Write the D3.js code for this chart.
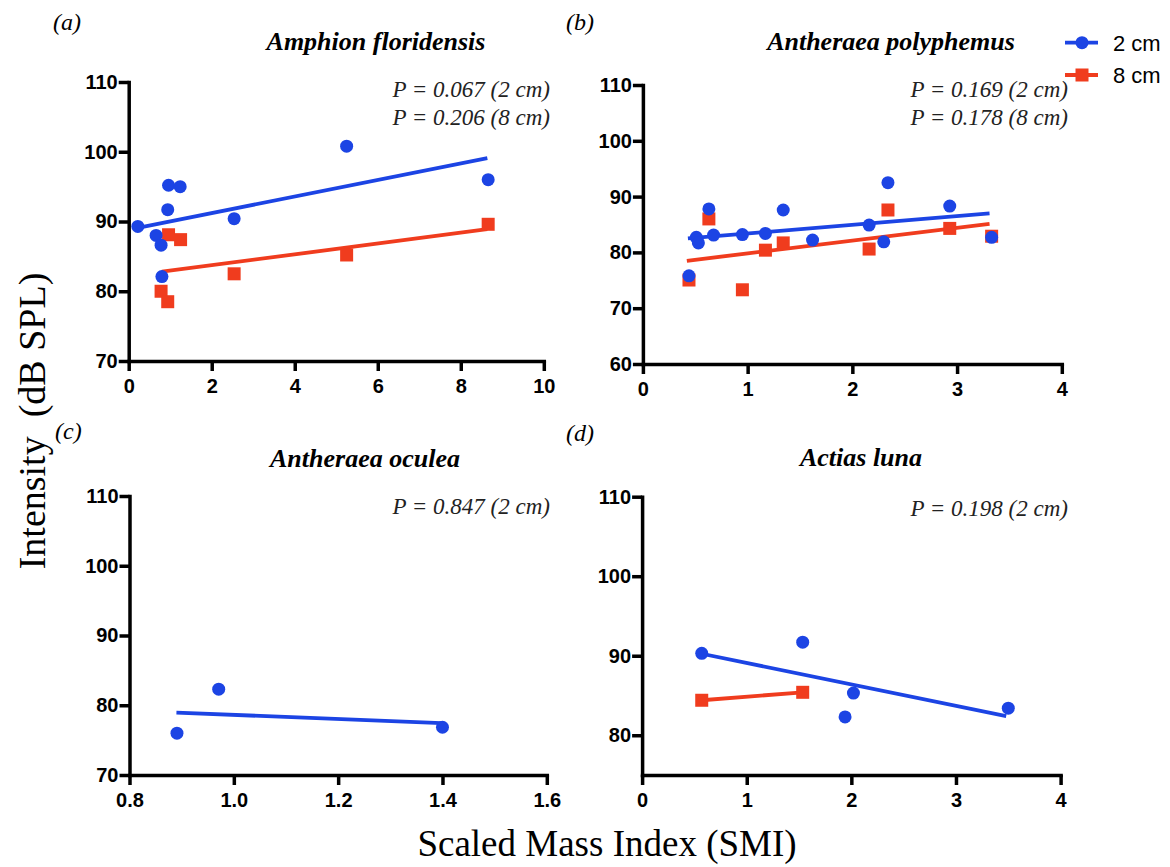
<!DOCTYPE html>
<html><head><meta charset="utf-8">
<script src="https://cdn.jsdelivr.net/npm/d3@7"></script>
<style>body{margin:0;background:#fff}</style>
</head><body><svg id="c" width="1170" height="867"></svg>
<script>
const blue = "#1c44e4", red = "#f03c1e";

// Panel (a) Amphion floridensis
const aX2 = [0.22, 0.66, 0.78, 0.80, 0.94, 0.96, 1.24, 2.54, 5.25, 8.66];
const aY2 = [89.3, 88.0, 86.6, 82.1, 91.7, 95.2, 95.0, 90.4, 100.8, 96.0];
const aX8 = [0.78, 0.94, 0.96, 1.25, 2.54, 5.25, 8.66];
const aY8 = [80.0, 78.5, 88.1, 87.4, 82.5, 85.2, 89.6];
const aFit2 = [[0.22, 89.1], [8.64, 99.1]];
const aFit8 = [[0.80, 82.8], [8.64, 88.9]];
const aXTicks = [0, 2, 4, 6, 8, 10];
const aYTicks = [70, 80, 90, 100, 110];

// Panel (b) Antheraea polyphemus
const bX2 = [0.44, 0.51, 0.53, 0.63, 0.675, 0.95, 1.17, 1.34, 1.62, 2.16, 2.30, 2.34, 2.93, 3.33];
const bY2 = [75.8, 82.7, 81.7, 87.8, 83.1, 83.2, 83.4, 87.6, 82.2, 84.9, 81.9, 92.5, 88.3, 82.7];
const bX8 = [0.44, 0.63, 0.95, 1.17, 1.34, 2.16, 2.34, 2.93, 3.33];
const bY8 = [75.05, 86.0, 73.3, 80.4, 81.7, 80.6, 87.6, 84.3, 82.9];
const bFit2 = [[0.43, 82.5], [3.31, 87.0]];
const bFit8 = [[0.42, 78.5], [3.31, 85.1]];
const bXTicks = [0, 1, 2, 3, 4];
const bYTicks = [60, 70, 80, 90, 100, 110];

// Panel (c) Antheraea oculea
const cX2 = [0.891, 0.971, 1.40];
const cY2 = [76.0, 82.3, 76.85];
const cFit2 = [[0.89, 78.95], [1.398, 77.43]];
const cXTicks = [0.8, 1.0, 1.2, 1.4, 1.6];
const cYTicks = [70, 80, 90, 100, 110];

// Panel (d) Actias luna
const dX2 = [0.57, 1.535, 1.94, 2.02, 3.50];
const dY2 = [90.3, 91.7, 82.3, 85.3, 83.4];
const dX8 = [0.57, 1.535];
const dY8 = [84.4, 85.4];
const dFit2 = [[0.57, 90.25], [3.48, 82.4]];
const dFit8 = [[0.57, 84.4], [1.535, 85.4]];
const dXTicks = [0, 1, 2, 3, 4];
const dYTicks = [80, 90, 100, 110];

const titles = ["Amphion floridensis", "Antheraea polyphemus", "Antheraea oculea", "Actias luna"];
const letters = ["(a)", "(b)", "(c)", "(d)"];
const pTexts = [
  ["P = 0.067 (2 cm)", "P = 0.206 (8 cm)"],
  ["P = 0.169 (2 cm)", "P = 0.178 (8 cm)"],
  ["P = 0.847 (2 cm)"],
  ["P = 0.198 (2 cm)"]
];
const legendLabels = ["2 cm", "8 cm"];

const zip = (xs, ys) => xs.map((x, i) => [x, ys[i]]);

const panels = [
  { xr: [128.7, 543.8], yr: [361, 82], xd: [0, 10], yd: [70, 110], xt: aXTicks, yt: aYTicks, fmt: d3.format("d"),
    s2: zip(aX2, aY2), s8: zip(aX8, aY8), f2: aFit2, f8: aFit8,
    title: [376, 50], letter: [53, 30], p: [550, 97] },
  { xr: [642.9, 1061.8], yr: [364, 85], xd: [0, 4], yd: [60, 110], xt: bXTicks, yt: bYTicks, fmt: d3.format("d"),
    s2: zip(bX2, bY2), s8: zip(bX8, bY8), f2: bFit2, f8: bFit8,
    title: [891, 50], letter: [566, 30], p: [1068, 97] },
  { xr: [129.5, 546.8], yr: [775, 496], xd: [0.8, 1.6], yd: [70, 110], xt: cXTicks, yt: cYTicks, fmt: d3.format(".1f"),
    s2: zip(cX2, cY2), s8: [], f2: cFit2, f8: null,
    title: [365, 467], letter: [55, 439], p: [550, 514] },
  { xr: [642.1, 1060.6], yr: [775, 496.7], xd: [0, 4], yd: [75, 110], xt: dXTicks, yt: dYTicks, fmt: d3.format("d"),
    s2: zip(dX2, dY2), s8: zip(dX8, dY8), f2: dFit2, f8: dFit8,
    title: [861, 466], letter: [566, 441], p: [1068, 516] }
];

const svg = d3.select("#c");

panels.forEach((P, i) => {
  const x = d3.scaleLinear().domain(P.xd).range(P.xr);
  const y = d3.scaleLinear().domain(P.yd).range(P.yr);
  const g = svg.append("g");

  const xa = g.append("g").attr("transform", `translate(0,${P.yr[0]})`)
    .call(d3.axisBottom(x).tickValues(P.xt).tickFormat(P.fmt).tickSize(10).tickSizeOuter(0).tickPadding(8));
  const ya = g.append("g").attr("transform", `translate(${P.xr[0]},0)`)
    .call(d3.axisLeft(y).tickValues(P.yt).tickFormat(d3.format("d")).tickSize(10).tickSizeOuter(0).tickPadding(1));
  [xa, ya].forEach(a => {
    a.select(".domain").attr("stroke", "#000").attr("stroke-width", 3.5).attr("stroke-linecap", "square");
    a.selectAll(".tick line").attr("stroke", "#000").attr("stroke-width", 3.5);
    a.selectAll(".tick text").attr("fill", "#000")
      .style("font-family", "Liberation Sans, Arial, sans-serif").style("font-weight", "bold").style("font-size", "20px");
  });

  const line = d3.line().x(d => x(d[0])).y(d => y(d[1]));
  if (P.f2) g.append("path").attr("d", line(P.f2)).attr("stroke", blue).attr("stroke-width", 3.8).attr("fill", "none");
  if (P.f8) g.append("path").attr("d", line(P.f8)).attr("stroke", red).attr("stroke-width", 3.8).attr("fill", "none");

  const sq = 13;
  g.selectAll("rect.s8").data(P.s8).enter().append("rect")
    .attr("x", d => x(d[0]) - sq / 2).attr("y", d => y(d[1]) - sq / 2)
    .attr("width", sq).attr("height", sq).attr("fill", red);
  g.selectAll("circle.s2").data(P.s2).enter().append("circle")
    .attr("cx", d => x(d[0])).attr("cy", d => y(d[1])).attr("r", 6.5).attr("fill", blue);

  svg.append("text").attr("x", P.title[0]).attr("y", P.title[1]).attr("text-anchor", "middle")
    .style("font-family", "Liberation Serif, Times New Roman, serif").style("font-style", "italic")
    .style("font-weight", "bold").style("font-size", "26px").text(titles[i]);
  svg.append("text").attr("x", P.letter[0]).attr("y", P.letter[1])
    .style("font-family", "Liberation Serif, Times New Roman, serif").style("font-style", "italic")
    .style("font-size", "24px").text(letters[i]);
  pTexts[i].forEach((t, k) => {
    svg.append("text").attr("x", P.p[0]).attr("y", P.p[1] + k * 28).attr("text-anchor", "end")
      .style("font-family", "Liberation Serif, Times New Roman, serif").style("font-style", "italic")
      .style("font-size", "23px").attr("fill", "#222").text(t);
  });
});

// Legend
const lg = svg.append("g");
[[blue, 42.7, "circle"], [red, 75, "rect"]].forEach((L, k) => {
  lg.append("line").attr("x1", 1065).attr("x2", 1098).attr("y1", L[1]).attr("y2", L[1])
    .attr("stroke", L[0]).attr("stroke-width", 3.8);
  if (L[2] === "circle") lg.append("circle").attr("cx", 1082).attr("cy", L[1]).attr("r", 6.5).attr("fill", L[0]);
  else lg.append("rect").attr("x", 1075.5).attr("y", L[1] - 6.5).attr("width", 13).attr("height", 13).attr("fill", L[0]);
  lg.append("text").attr("x", 1113).attr("y", L[1] + 8).style("font-family", "Liberation Sans, Arial, sans-serif")
    .style("font-size", "22px").text(legendLabels[k]);
});

// Axis titles
svg.append("text").attr("transform", "translate(45,421) rotate(-90)").attr("text-anchor", "middle")
  .style("font-family", "Liberation Serif, Times New Roman, serif").style("font-size", "38px")
  .attr("xml:space", "preserve").text("Intensity  (dB SPL)");
svg.append("text").attr("x", 607).attr("y", 856).attr("text-anchor", "middle")
  .style("font-family", "Liberation Serif, Times New Roman, serif").style("font-size", "37px")
  .text("Scaled Mass Index (SMI)");
</script></body></html>
